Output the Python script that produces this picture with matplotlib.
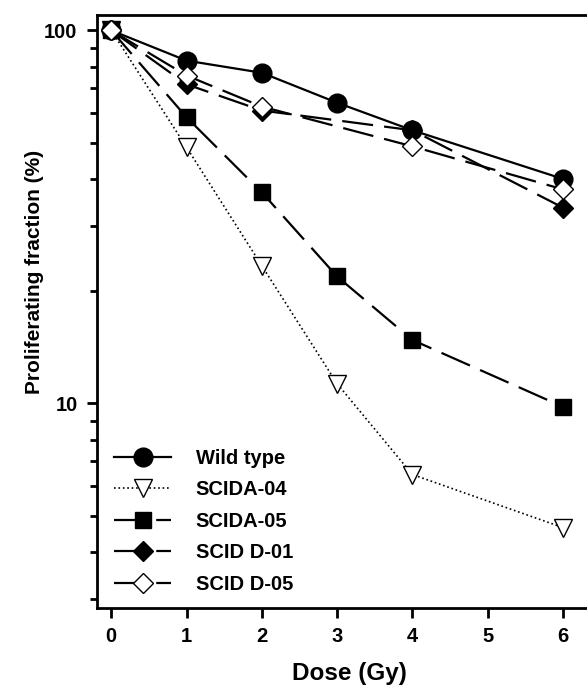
import numpy as np
import matplotlib.pyplot as plt
from matplotlib.ticker import LogLocator, NullFormatter, FixedLocator

# dane
dose = [0, 1, 2, 3, 4, 6]
dose_d = [0, 1, 2, 4, 6]
wild_type = [100, 83, 77, 64, 54, 40]
scida_04 = [100, 48.6, 23.4, 11.3, 6.45, 4.65]
scida_05 = [100, 58.5, 36.8, 21.9, 14.8, 9.8]
scid_d01 = [100, 71.7, 61, 54, 33.5]
scid_d05 = [100, 75.7, 62.5, 48.9, 37.5]

plt.rcParams['font.family'] = ['Liberation Sans', 'DejaVu Sans']
plt.rcParams['font.weight'] = 'bold'

fig = plt.figure(figsize=(5.87, 6.87), dpi=100)
ax = fig.add_axes([97/587, 1 - 608/687, 1 - 97/587, (608 - 15)/687])

lw = 1.6
ax.plot(dose, wild_type, '-', color='black', lw=lw, marker='o', ms=13.5,
        mfc='black', mec='black', label='Wild type', zorder=5)
ax.plot(dose, scida_04, ':', color='black', lw=1.2, marker='v', ms=13.5,
        mfc='white', mec='black', mew=1.0, label='SCIDA-04', zorder=3)
ax.plot(dose, scida_05, color='black', lw=lw, dashes=(14, 5), marker='s', ms=12,
        mfc='black', mec='black', label='SCIDA-05', zorder=4)
ax.plot(dose_d, scid_d01, color='black', lw=lw, dashes=(14, 5), marker='D', ms=10.5,
        mfc='black', mec='black', label='SCID D-01', zorder=4)
ax.plot(dose_d, scid_d05, color='black', lw=lw, dashes=(14, 5), marker='D', ms=10.5,
        mfc='white', mec='black', mew=1.0, label='SCID D-05', zorder=6)

ax.set_yscale('log')
ax.set_ylim(2.83, 110)
ax.set_xlim(-0.19, 6.32)
ax.xaxis.set_major_locator(FixedLocator([0, 1, 2, 3, 4, 5, 6]))
ax.yaxis.set_major_locator(FixedLocator([10, 100]))
ax.yaxis.set_major_formatter(plt.FuncFormatter(lambda v, p: f"{int(v)}"))
ax.yaxis.set_minor_locator(LogLocator(base=10, subs=np.arange(2, 10)))
ax.yaxis.set_minor_formatter(NullFormatter())

ax.spines['right'].set_visible(False)
for s in ['left', 'bottom', 'top']:
    ax.spines[s].set_linewidth(2)

ax.tick_params(axis='both', which='major', direction='out', length=7, width=2,
               labelsize=14.5, pad=7)
ax.tick_params(axis='y', which='minor', direction='out', length=5, width=2)
for lab in ax.get_xticklabels() + ax.get_yticklabels():
    lab.set_fontweight('bold')

ax.set_xlabel('Dose (Gy)', fontsize=17.5, fontweight='bold')
ax.set_ylabel('Proliferating fraction (%)', fontsize=15, fontweight='bold')
ax.xaxis.set_label_coords(0.516, -0.091)
ax.yaxis.set_label_coords(-0.108, 0.567)

leg = ax.legend(loc='lower left', bbox_to_anchor=(0.006, 0.0), frameon=False,
                handlelength=2.85, handletextpad=1.2, labelspacing=0.62,
                borderaxespad=0.3, prop={'weight': 'bold', 'size': 14.5})

fig.savefig('out.png', dpi=100)
